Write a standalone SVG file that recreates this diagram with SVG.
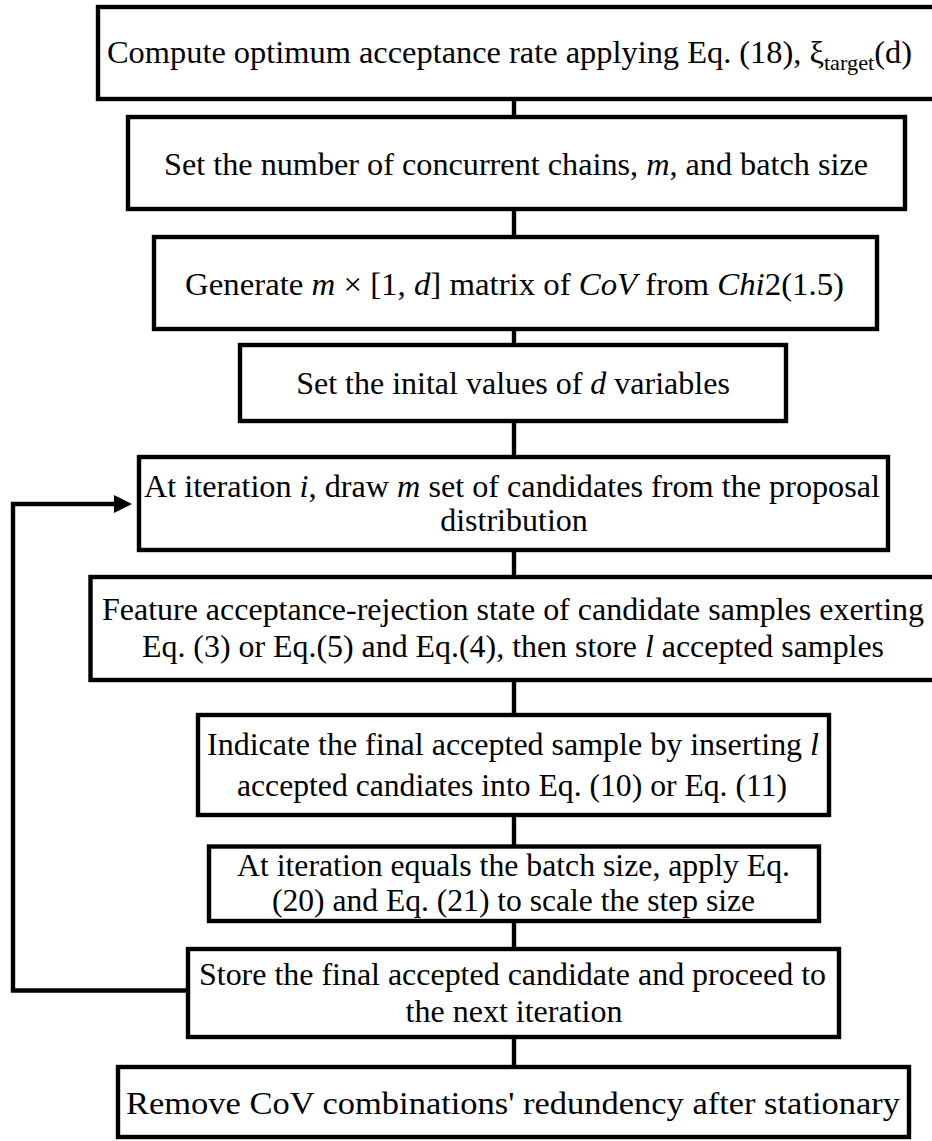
<svg xmlns="http://www.w3.org/2000/svg" width="932" height="1141" viewBox="0 0 932 1141">
<style>
.box{fill:#fff;stroke:#000;stroke-width:4.4}
.t{font-family:"Liberation Serif","Times New Roman",serif;font-size:32px;fill:#000}
.i{font-style:italic}
.m{text-anchor:middle}
.c{stroke:#000;stroke-width:4.4;fill:none}
</style>
<defs>
<marker id="ah" markerUnits="userSpaceOnUse" viewBox="0 0 18 18" markerWidth="18" markerHeight="18" refX="6" refY="9" orient="auto">
<path d="M0,0 L18,9 L0,18 z" fill="#000"/>
</marker>
</defs>
<g id="connectors">
<line class="c" x1="514" y1="99" x2="514" y2="117"/>
<line class="c" x1="514" y1="209" x2="514" y2="237"/>
<line class="c" x1="514" y1="329" x2="514" y2="345"/>
<line class="c" x1="514" y1="421" x2="514" y2="457"/>
<line class="c" x1="514" y1="550" x2="514" y2="577"/>
<line class="c" x1="514" y1="680" x2="514" y2="715"/>
<line class="c" x1="514" y1="815" x2="514" y2="846"/>
<line class="c" x1="514" y1="921" x2="514" y2="949"/>
<line class="c" x1="514" y1="1037" x2="514" y2="1067"/>
<path class="c" d="M188,990.5 H13 V504 H120" marker-end="url(#ah)"/>
</g>
<g id="n1">
<rect class="box" x="98" y="7" width="842" height="92"/>
<text class="t" x="107" y="63" textLength="805" lengthAdjust="spacingAndGlyphs">Compute optimum acceptance rate applying Eq. (18), ξ<tspan font-size="22" dy="7">target</tspan><tspan dy="-7">(d)</tspan></text>
</g>
<g id="n2">
<rect class="box" x="128" y="117" width="777" height="92"/>
<text class="t" x="164" y="175" textLength="704" lengthAdjust="spacingAndGlyphs">Set the number of concurrent chains, <tspan class="i">m</tspan>, and batch size</text>
</g>
<g id="n3">
<rect class="box" x="154" y="237" width="723" height="92"/>
<text class="t" x="185" y="295" textLength="659" lengthAdjust="spacingAndGlyphs">Generate <tspan class="i">m</tspan> × [1, <tspan class="i">d</tspan>] matrix of <tspan class="i">CoV</tspan> from <tspan class="i">Chi</tspan>2(1.5)</text>
</g>
<g id="n4">
<rect class="box" x="240" y="345" width="546" height="76"/>
<text class="t m" x="513" y="394">Set the inital values of <tspan class="i">d</tspan> variables</text>
</g>
<g id="n5">
<rect class="box" x="139" y="457" width="749" height="93"/>
<text class="t" x="144" y="497" textLength="736" lengthAdjust="spacingAndGlyphs">At iteration <tspan class="i">i</tspan>, draw <tspan class="i">m</tspan> set of candidates from the proposal</text>
<text class="t m" x="514" y="531">distribution</text>
</g>
<g id="n6">
<rect class="box" x="90.5" y="577" width="850" height="103"/>
<text class="t" x="102" y="620" textLength="822" lengthAdjust="spacingAndGlyphs">Feature acceptance-rejection state of candidate samples exerting</text>
<text class="t" x="142" y="657" textLength="742" lengthAdjust="spacingAndGlyphs">Eq. (3) or Eq.(5) and Eq.(4), then store <tspan class="i">l</tspan> accepted samples</text>
</g>
<g id="n7">
<rect class="box" x="198" y="715" width="631" height="100"/>
<text class="t" x="207" y="755" textLength="612" lengthAdjust="spacingAndGlyphs">Indicate the final accepted sample by inserting <tspan class="i">l</tspan></text>
<text class="t" x="237" y="796" textLength="550" lengthAdjust="spacingAndGlyphs">accepted candiates into Eq. (10) or Eq. (11)</text>
</g>
<g id="n8">
<rect class="box" x="209" y="846.5" width="610" height="74.5"/>
<text class="t" x="237" y="876" textLength="553" lengthAdjust="spacingAndGlyphs">At iteration equals the batch size, apply Eq.</text>
<text class="t" x="272" y="911" textLength="483" lengthAdjust="spacingAndGlyphs">(20) and Eq. (21) to scale the step size</text>
</g>
<g id="n9">
<rect class="box" x="188" y="949" width="651" height="88"/>
<text class="t" x="199" y="985" textLength="627" lengthAdjust="spacingAndGlyphs">Store the final accepted candidate and proceed to</text>
<text class="t m" x="514" y="1022">the next iteration</text>
</g>
<g id="n10">
<rect class="box" x="118" y="1067" width="791" height="70"/>
<text class="t" x="126" y="1114" font-size="34.5" textLength="774" lengthAdjust="spacingAndGlyphs">Remove CoV combinations' redundency after stationary</text>
</g>
</svg>
